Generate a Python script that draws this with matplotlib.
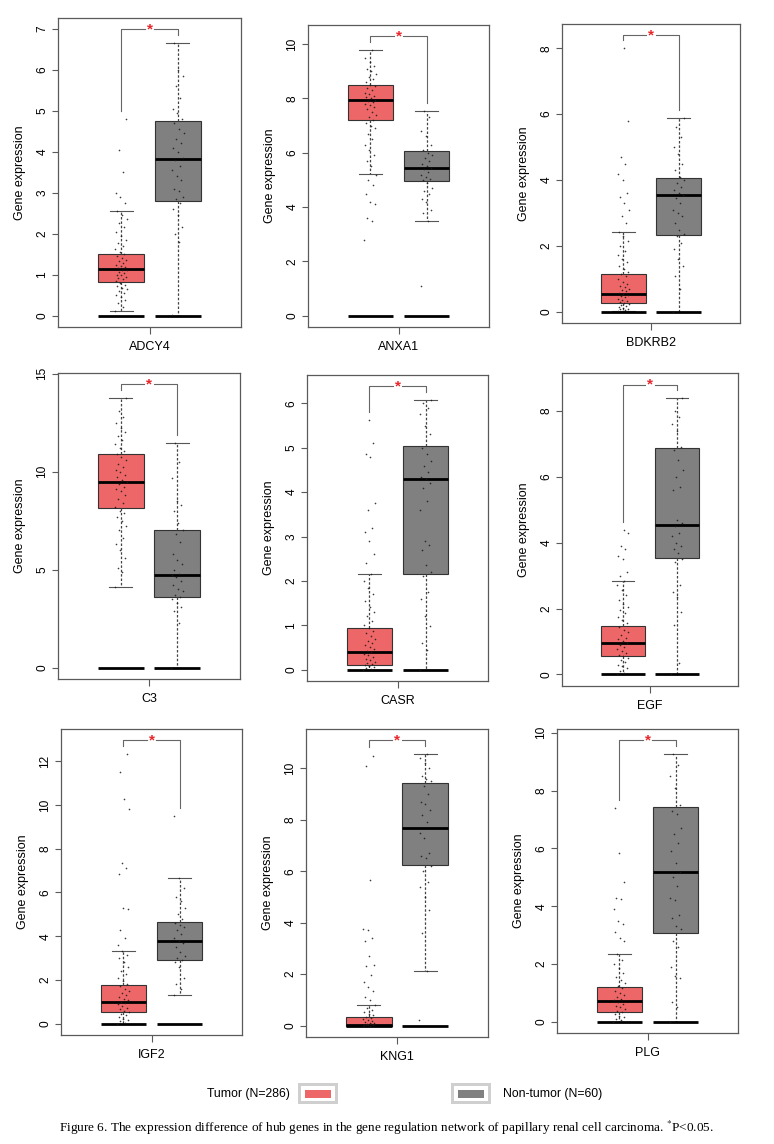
import numpy as np
import matplotlib
matplotlib.use("Agg")
import matplotlib.pyplot as plt
from matplotlib.patches import Rectangle

plt.rcParams['font.family'] = ['Liberation Sans', 'DejaVu Sans']
plt.rcParams['mathtext.fontset'] = 'stix'

# ---------------- data ----------------
genes = ["ADCY4", "ANXA1", "BDKRB2", "C3", "CASR", "EGF", "IGF2", "KNG1", "PLG"]
groups = ["Tumor (N=286)", "Non-tumor (N=60)"]

tumor_whislo = [0.10, 5.21, 0.03, 4.12, 0.00, 0.00, 0.00, 0.00, 0.00]
tumor_q1     = [0.83, 7.19, 0.26, 8.14, 0.105, 0.56, 0.53, 0.00, 0.35]
tumor_med    = [1.13, 7.94, 0.55, 9.46, 0.39, 0.95, 0.97, 0.04, 0.72]
tumor_q3     = [1.50, 8.51, 1.16, 10.92, 0.94, 1.47, 1.75, 0.35, 1.21]
tumor_whishi = [2.55, 9.80, 2.43, 13.76, 2.15, 2.84, 3.31, 0.81, 2.36]

normal_whislo = [0.00, 3.50, 0.00, 0.00, 0.00, 0.00, 1.33, 2.13, 0.00]
normal_q1     = [2.80, 4.96, 2.34, 3.61, 2.16, 3.53, 2.89, 6.26, 3.07]
normal_med    = [3.83, 5.43, 3.54, 4.71, 4.29, 4.55, 3.77, 7.69, 5.20]
normal_q3     = [4.75, 6.08, 4.07, 7.02, 5.05, 6.88, 4.65, 9.43, 7.43]
normal_whishi = [6.65, 7.52, 5.89, 11.46, 6.08, 8.38, 6.64, 10.56, 9.28]

tumor_points = [
    [0.1, 0.22, 0.3, 0.38, 0.45, 0.5, 0.55, 0.6, 0.65, 0.68, 0.72, 0.75, 0.8, 0.84, 0.88, 0.92, 0.95,
     0.98, 1.0, 1.03, 1.06, 1.1, 1.12, 1.15, 1.18, 1.2, 1.24, 1.28, 1.32, 1.36, 1.4, 1.45, 1.5, 1.56,
     1.62, 1.7, 1.78, 1.85, 1.95, 2.05, 2.15, 2.25, 2.35, 2.45, 2.55, 2.75, 2.9, 3.0, 3.5, 4.05, 4.8],
    [2.8, 3.5, 3.6, 4.1, 4.2, 4.5, 4.8, 5.0, 5.2, 5.5, 5.7, 5.9, 6.1, 6.3, 6.5, 6.7, 6.9, 7.0, 7.1,
     7.2, 7.3, 7.4, 7.5, 7.6, 7.7, 7.75, 7.8, 7.85, 7.9, 7.95, 8.0, 8.05, 8.1, 8.15, 8.2, 8.3, 8.4,
     8.45, 8.5, 8.6, 8.7, 8.8, 8.9, 9.0, 9.1, 9.2, 9.35, 9.5, 9.8],
    [0.02, 0.05, 0.08, 0.1, 0.12, 0.15, 0.18, 0.2, 0.24, 0.27, 0.3, 0.33, 0.36, 0.4, 0.44, 0.48, 0.52,
     0.55, 0.58, 0.62, 0.66, 0.7, 0.75, 0.8, 0.86, 0.92, 1.0, 1.08, 1.15, 1.22, 1.3, 1.4, 1.5, 1.6,
     1.72, 1.85, 2.0, 2.15, 2.3, 2.43, 2.7, 2.9, 3.1, 3.3, 3.5, 3.6, 4.0, 4.2, 4.5, 4.7, 5.78, 8.0],
    [4.12, 4.9, 5.1, 5.6, 6.0, 6.3, 6.6, 7.0, 7.2, 7.5, 7.7, 7.9, 8.0, 8.2, 8.4, 8.6, 8.8, 9.0, 9.1,
     9.2, 9.35, 9.45, 9.55, 9.7, 9.85, 10.0, 10.1, 10.25, 10.4, 10.6, 10.75, 10.9, 11.05, 11.2, 11.4,
     11.6, 11.8, 12.0, 12.2, 12.5, 12.8, 13.1, 13.76],
    [0.0, 0.02, 0.04, 0.06, 0.08, 0.1, 0.12, 0.15, 0.18, 0.21, 0.25, 0.28, 0.32, 0.36, 0.39, 0.42,
     0.46, 0.5, 0.55, 0.6, 0.65, 0.7, 0.76, 0.82, 0.88, 0.94, 1.0, 1.1, 1.2, 1.3, 1.42, 1.55, 1.7,
     1.85, 2.0, 2.15, 2.4, 2.6, 2.9, 3.1, 3.2, 3.6, 3.75, 4.8, 4.85, 5.1, 5.62],
    [0.0, 0.05, 0.1, 0.18, 0.25, 0.3, 0.38, 0.45, 0.5, 0.56, 0.6, 0.66, 0.72, 0.78, 0.84, 0.9, 0.95,
     1.0, 1.06, 1.12, 1.2, 1.28, 1.36, 1.45, 1.55, 1.65, 1.75, 1.85, 1.95, 2.05, 2.15, 2.25, 2.4,
     2.55, 2.7, 2.84, 3.0, 3.1, 3.5, 3.6, 3.8, 3.9, 4.3, 4.39],
    [0.0, 0.05, 0.1, 0.15, 0.22, 0.3, 0.38, 0.45, 0.52, 0.58, 0.65, 0.72, 0.8, 0.88, 0.95, 1.0, 1.06,
     1.12, 1.2, 1.3, 1.4, 1.5, 1.6, 1.7, 1.8, 1.95, 2.1, 2.25, 2.4, 2.6, 2.8, 3.0, 3.15, 3.31, 3.6,
     3.9, 4.3, 5.25, 5.3, 6.85, 7.1, 7.35, 9.8, 10.26, 11.52, 12.34],
    [0.0, 0.0, 0.01, 0.02, 0.03, 0.04, 0.05, 0.07, 0.09, 0.12, 0.15, 0.18, 0.22, 0.26, 0.3, 0.35,
     0.4, 0.45, 0.52, 0.6, 0.7, 0.81, 1.0, 1.1, 1.35, 1.5, 1.7, 1.95, 2.3, 2.35, 2.7, 3.3, 3.4, 3.7,
     3.75, 5.67, 10.1, 10.5],
    [0.0, 0.05, 0.1, 0.15, 0.2, 0.26, 0.32, 0.38, 0.44, 0.5, 0.56, 0.62, 0.68, 0.74, 0.8, 0.86, 0.92,
     1.0, 1.08, 1.16, 1.25, 1.35, 1.45, 1.55, 1.7, 1.85, 2.0, 2.15, 2.36, 2.8, 2.9, 3.1, 3.4, 3.5, 3.9,
     4.25, 4.3, 4.85, 5.85, 7.4],
]

normal_points = [
    [0.02, 1.8, 2.0, 2.15, 2.45, 2.6, 2.75, 2.85, 2.9, 3.05, 3.1, 3.3, 3.4, 3.55, 3.65, 3.8, 3.85,
     4.0, 4.1, 4.2, 4.3, 4.45, 4.55, 4.7, 4.8, 4.95, 5.05, 5.3, 5.6, 5.85, 6.0, 6.65],
    [1.1, 3.5, 3.8, 3.9, 4.2, 4.3, 4.5, 4.6, 4.7, 4.9, 5.0, 5.05, 5.1, 5.2, 5.3, 5.4, 5.45, 5.5, 5.6,
     5.7, 5.8, 5.9, 6.0, 6.1, 6.3, 6.6, 6.8, 7.3, 7.52],
    [0.0, 0.7, 1.1, 1.4, 1.6, 1.9, 2.1, 2.3, 2.35, 2.5, 2.7, 2.9, 3.0, 3.1, 3.3, 3.45, 3.55, 3.6, 3.7,
     3.8, 3.9, 4.0, 4.1, 4.3, 4.5, 4.8, 5.0, 5.3, 5.6, 5.89],
    [0.0, 2.3, 2.9, 3.1, 3.3, 3.5, 3.6, 3.7, 3.9, 4.0, 4.2, 4.4, 4.6, 4.7, 4.8, 5.0, 5.3, 5.5, 5.8,
     6.4, 6.8, 7.0, 7.4, 8.0, 8.3, 8.5, 9.66, 10.5, 11.46],
    [0.0, 0.45, 0.6, 0.98, 1.2, 1.6, 1.75, 2.1, 2.2, 2.35, 2.7, 2.8, 2.9, 3.6, 3.8, 4.1, 4.2, 4.3,
     4.35, 4.45, 4.6, 4.7, 4.85, 5.0, 5.3, 5.5, 5.75, 5.9, 6.0, 6.08],
    [0.0, 0.34, 1.5, 1.9, 2.35, 2.5, 2.7, 3.4, 3.5, 3.7, 3.8, 3.9, 4.0, 4.2, 4.3, 4.5, 4.6, 4.7, 5.6,
     5.7, 6.0, 6.2, 6.5, 6.8, 6.9, 7.4, 7.6, 7.8, 8.0, 8.38],
    [1.33, 1.6, 1.8, 2.1, 2.6, 2.8, 2.9, 3.0, 3.1, 3.3, 3.5, 3.7, 3.8, 3.9, 4.1, 4.3, 4.4, 4.5, 4.6,
     4.8, 5.0, 5.3, 5.6, 5.8, 6.2, 6.64, 9.5],
    [0.2, 2.13, 3.6, 4.5, 5.0, 5.4, 5.6, 6.0, 6.2, 6.5, 6.6, 6.7, 7.3, 7.5, 7.9, 8.2, 8.4, 8.6, 8.7,
     9.0, 9.3, 9.5, 9.6, 9.7, 10.0, 10.2, 10.4, 10.56],
    [0.0, 0.5, 0.7, 1.5, 1.6, 1.9, 2.6, 2.8, 3.2, 3.3, 3.6, 3.7, 4.2, 4.3, 4.7, 5.0, 5.2, 5.5, 5.9,
     6.2, 6.5, 6.7, 7.2, 7.3, 7.5, 8.1, 8.5, 8.9, 9.28],
]

ytick_steps = [1, 2, 2, 5, 1, 2, 2, 2, 2]
significance = ["*"] * 9

# ---------------- layout / style ----------------
W, H = 774, 1144
fig = plt.figure(figsize=(W / 100, H / 100), dpi=100)

# panel frames in pixels: left, top, right, bottom
frames = [
    (58, 18, 241, 327), (308, 25, 489, 327), (562, 24, 740, 323),
    (58, 373, 240, 679), (307, 375, 488, 681), (562, 373, 738, 686),
    (61, 729, 242, 1035), (306, 729, 488, 1037), (557, 729, 738, 1033),
]

tumor_color = "#EE6768"
normal_color = "#808080"
frame_color = "#5a5a5a"
pos = [0.845, 1.155]
bw = 0.25
jit = 0.033

for k, g in enumerate(genes):
    l, t, r, b = frames[k]
    ax = fig.add_axes([l / W, 1 - b / H, (r - l) / W, (b - t) / H])

    stats = [
        dict(whislo=tumor_whislo[k], q1=tumor_q1[k], med=tumor_med[k], q3=tumor_q3[k],
             whishi=tumor_whishi[k], label=""),
        dict(whislo=normal_whislo[k], q1=normal_q1[k], med=normal_med[k], q3=normal_q3[k],
             whishi=normal_whishi[k], label=""),
    ]
    bp = ax.bxp(stats, positions=pos, widths=bw, patch_artist=True, showfliers=False,
                capwidths=bw / 2,
                boxprops=dict(edgecolor="#333333", linewidth=0.8),
                whiskerprops=dict(color="#444444", linewidth=0.9, linestyle=(0, (2.0, 1.5))),
                capprops=dict(color="#555555", linewidth=0.8),
                medianprops=dict(color="black", linewidth=2.0))
    for patch, c in zip(bp["boxes"], [tumor_color, normal_color]):
        patch.set_facecolor(c)

    # baseline (zero) bars
    for p in pos:
        ax.hlines(0, p - bw / 2, p + bw / 2, color="black", linewidth=2.0, zorder=3)

    # jittered points
    for p, pts in zip(pos, [tumor_points[k], normal_points[k]]):
        n = len(pts)
        offs = (((np.arange(n) * 0.6180339887) % 1.0) - 0.5) * 2 * jit
        ax.scatter(p + offs, pts, s=1.4, color="#1a1a1a", alpha=0.85, linewidths=0, zorder=4)

    # significance bracket
    tmax = max(max(tumor_points[k]), tumor_whishi[k])
    nmax = max(max(normal_points[k]), normal_whishi[k])
    allmax = max(tmax, nmax)
    top = 1.05 * allmax
    pad = 0.03 * allmax
    gap = 0.027
    bc = "#666666"
    ax.plot([pos[0], pos[0], 1 - gap], [tmax + pad, top, top], color=bc, lw=0.8, zorder=2)
    ax.plot([1 + gap, pos[1], pos[1]], [top, top, nmax + pad], color=bc, lw=0.8, zorder=2)
    ax.text(1.0, top, significance[k], color="#E8262B", fontsize=11, ha="center", va="center",
            fontweight="bold", zorder=5)

    ax.set_xlim(0.5, 1.5)
    ax.set_ylim(-0.04 * top, 1.04 * top)
    step = ytick_steps[k]
    ticks = np.arange(0, 1.04 * top + 1e-9, step)
    ax.set_yticks(ticks)
    ax.set_yticklabels([f"{v:g}" for v in ticks], rotation=90, va="center")
    ax.set_xticks([1.0])
    ax.set_xticklabels([g])
    ax.tick_params(axis="y", length=4, width=0.8, color=frame_color, labelsize=8.6, pad=3)
    ax.tick_params(axis="x", length=5, width=0.8, color=frame_color, labelsize=9, pad=5)
    for s in ax.spines.values():
        s.set_color(frame_color)
        s.set_linewidth(0.9)
    ax.set_ylabel("Gene expression", fontsize=9)
    ax.yaxis.set_label_coords(-32 / (r - l), 0.5)

# ---------------- legend ----------------
def fx(x):
    return x / W

def fy(y):
    return 1 - y / H

fig.text(fx(290), fy(1094), groups[0], ha="right", va="center", fontsize=8.8)
fig.text(fx(503), fy(1094), groups[1], ha="left", va="center", fontsize=8.8)
for x0, c in [(298, tumor_color), (451, normal_color)]:
    fig.patches.append(Rectangle((fx(x0), fy(1104)), 40 / W, 21 / H, transform=fig.transFigure,
                                 facecolor="#cfcfcf", edgecolor="none"))
    fig.patches.append(Rectangle((fx(x0 + 3), fy(1101)), 34 / W, 15 / H, transform=fig.transFigure,
                                 facecolor="white", edgecolor="none"))
    fig.patches.append(Rectangle((fx(x0 + 7), fy(1098)), 26 / W, 8 / H, transform=fig.transFigure,
                                 facecolor=c, edgecolor="none"))

fig.text(0.5 * (68 + 705) / W, fy(1128),
         "Figure 6. The expression difference of hub genes in the gene regulation network of "
         "papillary renal cell carcinoma. $^{*}$P<0.05.",
         ha="center", va="center", fontsize=9.5, family=["Liberation Serif", "DejaVu Serif"])

fig.savefig("out.png", dpi=100)
